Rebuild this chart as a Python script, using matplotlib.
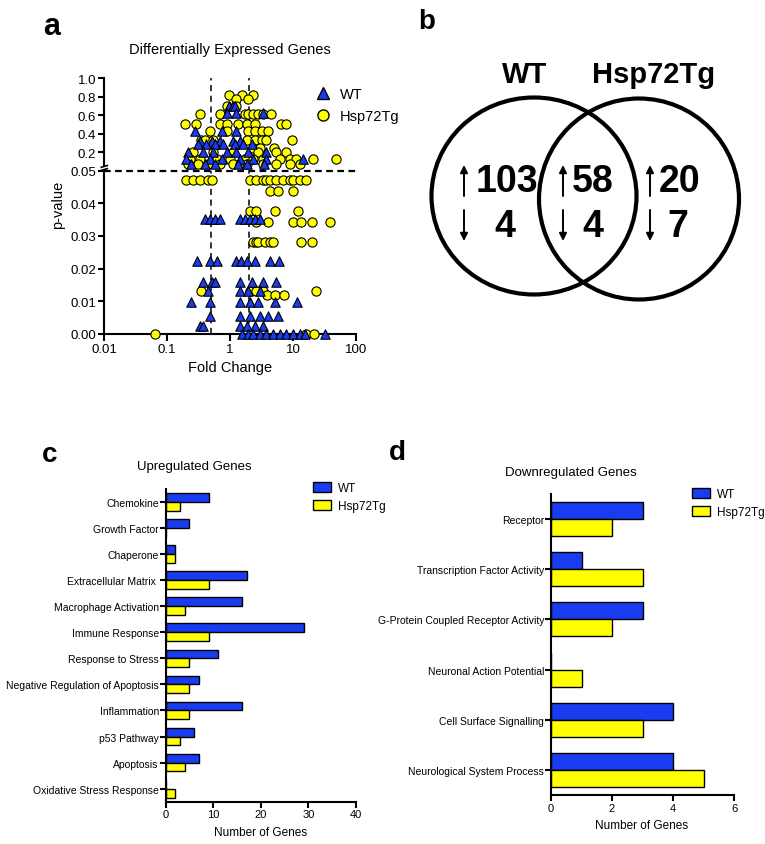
import matplotlib

matplotlib.use("Agg")
import matplotlib.pyplot as plt
import numpy as np
from matplotlib.lines import Line2D
from matplotlib.patches import Ellipse

plt.rcParams["font.family"] = ["Liberation Sans", "DejaVu Sans"]

BLUE = "#1a3cf0"
YELLOW = "#ffff00"
W, H = 765, 845

# --- panel a: fold change vs p-value, one row of points per p-value ---
wt_rows_p = [0.70, 0.62, 0.43, 0.32, 0.29, 0.20, 0.13, 0.075,
             0.0352, 0.0224, 0.0158, 0.0131, 0.0098, 0.0055, 0.0025, 0.0]
wt_rows_fc = [
    [0.96, 1.11, 1.19],
    [0.88, 1.23, 3.3],
    [0.28, 0.73, 1.26],
    [0.33, 0.51, 0.69, 1.12, 1.43],
    [0.31, 0.42, 0.57, 0.77, 1.19, 1.61, 2.19],
    [0.21, 0.37, 0.54, 0.88, 1.26, 1.93, 3.78],
    [0.20, 0.48, 0.73, 1.43, 2.32, 3.78, 14.4],
    [0.24, 0.40, 0.57, 1.34, 1.82, 3.5],
    [0.40, 0.48, 0.57, 0.69, 1.43, 1.71, 2.05, 2.46, 2.96],
    [0.30, 0.48, 0.61, 1.26, 1.51, 1.83, 2.46, 4.27, 5.9],
    [0.37, 0.51, 0.57, 1.43, 2.2, 3.34, 5.45],
    [0.45, 1.43, 1.93, 2.96],
    [0.24, 0.48, 1.43, 2.05, 2.77, 5.1, 11.4],
    [0.48, 1.43, 2.05, 2.96, 4.0, 5.78],
    [0.33, 0.37, 1.43, 1.83, 2.47, 3.34],
    [1.52, 1.93, 2.32, 2.96, 3.78, 4.82, 6.15, 7.85, 10.0, 12.8, 15.3, 31.9],
]
hsp_rows_p = [0.82, 0.77, 0.70, 0.61, 0.51, 0.43, 0.33, 0.25, 0.20, 0.13, 0.075,
              0.0471, 0.0439, 0.0375, 0.0342, 0.0280, 0.0131, 0.0120, 0.0]
hsp_rows_fc = [
    [0.96, 1.52, 2.32],
    [1.24, 1.93],
    [0.88, 1.26],
    [0.33, 0.69, 1.71, 1.93, 2.32, 2.78, 3.34, 4.54],
    [0.19, 0.29, 0.69, 0.88, 1.34, 1.82, 2.47, 6.54, 7.85],
    [0.47, 0.88, 1.93, 2.47, 3.15, 4.01],
    [0.35, 0.40, 0.54, 1.82, 2.47, 3.15, 3.78, 9.44],
    [2.3, 3.0, 4.9],
    [0.26, 0.54, 1.12, 2.78, 5.45, 7.85],
    [0.23, 0.33, 0.61, 0.99, 1.71, 2.32, 3.34, 6.15, 8.87, 11.3, 20.8, 47.6],
    [0.215, 0.31, 0.45, 0.69, 1.12, 1.82, 3.34, 5.45, 8.87, 12.8],
    [0.20, 0.26, 0.33, 0.45, 0.51, 2.05, 2.62, 3.34, 3.78, 4.27, 5.45, 6.94, 8.87, 10.0, 12.8, 16.3],
    [4.27, 5.78, 10.0],
    [2.05, 2.62, 5.12, 11.9],
    [2.62, 4.0, 9.8, 13.6, 20.0, 38.0],
    [2.3, 2.6, 2.75, 3.54, 4.27, 4.83, 13.2, 20.0],
    [0.35, 2.05, 2.62, 3.3, 23.5],
    [3.8, 5.1, 7.3],
    [0.064, 16.3, 21.9],
]
fc_cutoffs = [0.5, 2.0]
p_cutoff = 0.05

# --- panel b: Venn counts (WT only, shared, Hsp72Tg only) ---
venn_groups = ["WT", "Hsp72Tg"]
venn_up = [103, 58, 20]
venn_down = [4, 4, 7]

# --- panel c ---
up_categories = ["Chemokine", "Growth Factor", "Chaperone", "Extracellular Matrix ",
                 "Macrophage Activation", "Immune Response", "Response to Stress",
                 "Negative Regulation of Apoptosis", "Inflammation", "p53 Pathway",
                 "Apoptosis", "Oxidative Stress Response"]
up_wt = [9, 5, 2, 17, 16, 29, 11, 7, 16, 6, 7, 0]
up_hsp = [3, 0, 2, 9, 4, 9, 5, 5, 5, 3, 4, 2]

# --- panel d ---
down_categories = ["Receptor", "Transcription Factor Activity",
                   "G-Protein Coupled Receptor Activity", "Neuronal Action Potential",
                   "Cell Surface Signalling", "Neurological System Process"]
down_wt = [3, 1, 3, 0, 4, 4]
down_hsp = [2, 3, 2, 1, 3, 5]


def px_box(left, top, right, bottom):
    return [left / W, 1 - bottom / H, (right - left) / W, (bottom - top) / H]


def fx(x):
    return x / W


def fy(y):
    return 1 - y / H


def expand(rows_p, rows_fc):
    fc, p = [], []
    for pv, fcs in zip(rows_p, rows_fc):
        fc.extend(fcs)
        p.extend([pv] * len(fcs))
    return np.asarray(fc), np.asarray(p)


def style_axis(ax):
    for side in ("top", "right"):
        ax.spines[side].set_visible(False)
    for side in ("left", "bottom"):
        ax.spines[side].set_linewidth(1.5)
    ax.tick_params(width=1.5, length=4, color="black")


fig = plt.figure(figsize=(W / 100, H / 100), dpi=100)

# ---------------- panel a ----------------
ax_top = fig.add_axes(px_box(104.3, 79, 356, 167.4))
ax_bot = fig.add_axes(px_box(104.3, 171.7, 356, 334.7))
for ax in (ax_top, ax_bot):
    style_axis(ax)
    ax.set_xscale("log")
    ax.set_xlim(0.01, 100)
    ax.tick_params(which="minor", length=0)
    ax.tick_params(labelsize=9.5, pad=2)
    for c in fc_cutoffs:
        ax.axvline(c, color="black", ls=(0, (4, 3)), lw=1.1, zorder=1)
ax_top.spines["bottom"].set_visible(False)
ax_top.set_xticks([])
ax_top.set_ylim(0.05, 1.0)
ax_top.set_yticks([0.2, 0.4, 0.6, 0.8, 1.0], ["0.2", "0.4", "0.6", "0.8", "1.0"])
ax_bot.set_ylim(0, 0.05)
ax_bot.set_yticks([0, 0.01, 0.02, 0.03, 0.04, 0.05],
                  ["0.00", "0.01", "0.02", "0.03", "0.04", "0.05"])
ax_bot.set_xticks([0.01, 0.1, 1, 10, 100], ["0.01", "0.1", "1", "10", "100"])
ax_bot.tick_params(axis="x", length=5)
ax_bot.axhline(p_cutoff, color="black", ls=(0, (3, 2)), lw=1.6, xmax=1.01, clip_on=False, zorder=1)

wt_fc, wt_p = expand(wt_rows_p, wt_rows_fc)
hsp_fc, hsp_p = expand(hsp_rows_p, hsp_rows_fc)
for ax, sel in ((ax_top, lambda p: p >= p_cutoff), (ax_bot, lambda p: p < p_cutoff)):
    m = sel(hsp_p)
    ax.scatter(hsp_fc[m], hsp_p[m], s=44, marker="o", color=YELLOW, edgecolor="black",
               linewidth=0.8, clip_on=False, zorder=3)
    m = sel(wt_p)
    ax.scatter(wt_fc[m], wt_p[m], s=46, marker="^", color=BLUE, edgecolor="black",
               linewidth=0.8, clip_on=False, zorder=4)

# axis break marks
for yb in (-0.035, -0.0):
    ax_top.plot([-0.012, 0.012], [yb - 0.01, yb + 0.01], transform=ax_top.transAxes,
                color="black", lw=1.2, clip_on=False)

handles_a = [
    Line2D([], [], marker="^", ls="", color=BLUE, markeredgecolor="black", markersize=8, label="WT"),
    Line2D([], [], marker="o", ls="", color=YELLOW, markeredgecolor="black", markersize=8, label="Hsp72Tg"),
]
ax_top.legend(handles=handles_a, loc="upper left", bbox_to_anchor=(fx(308), fy(81)),
              bbox_transform=fig.transFigure, frameon=False, fontsize=10.5, borderpad=0,
              handlelength=1.0, handletextpad=0.7, labelspacing=0.55)

fig.text(fx(230), fy(50), "Differentially Expressed Genes", ha="center", va="center", fontsize=10.5)
fig.text(fx(230), fy(368), "Fold Change", ha="center", va="center", fontsize=10.5)
fig.text(fx(58), fy(205), "p-value", ha="center", va="center", rotation=90, fontsize=10.5)

# ---------------- panel b ----------------
ax_b = fig.add_axes(px_box(380, 0, 765, 380))
ax_b.set_xlim(380, 765)
ax_b.set_ylim(380, 0)
ax_b.axis("off")
ax_b.add_patch(Ellipse((534, 197), 205, 197, fill=False, lw=3.0, ec="black"))
ax_b.add_patch(Ellipse((639, 200), 200, 201, fill=False, lw=3.0, ec="black"))
for x, name in zip([525, 654], venn_groups):
    ax_b.text(x, 75, name, ha="center", va="center", fontsize=21, fontweight="bold")

arrow_x = [464, 563, 650]
up_left = [476, 572, 659]
down_center = [505, 593, 678]
for ax_x, ux, dx, nu, nd in zip(arrow_x, up_left, down_center, venn_up, venn_down):
    ax_b.annotate("", xy=(ax_x, 166), xytext=(ax_x, 197),
                  arrowprops=dict(arrowstyle="-|>", lw=1.4, color="black", mutation_scale=11,
                                  shrinkA=0, shrinkB=0))
    ax_b.annotate("", xy=(ax_x, 242), xytext=(ax_x, 211),
                  arrowprops=dict(arrowstyle="-|>", lw=1.4, color="black", mutation_scale=11,
                                  shrinkA=0, shrinkB=0))
    ax_b.text(ux, 182, str(nu), ha="left", va="center", fontsize=27, fontweight="bold")
    ax_b.text(dx, 227, str(nd), ha="center", va="center", fontsize=27, fontweight="bold")


# ---------------- panels c, d ----------------
def bar_panel(ax, cats, wt, hsp, xmax, xstep):
    style_axis(ax)
    y = np.arange(len(cats))
    h = 0.34
    ax.barh(y - h / 2, wt, height=h, color=BLUE, edgecolor="black", linewidth=1.0, label="WT")
    ax.barh(y + h / 2, hsp, height=h, color=YELLOW, edgecolor="black", linewidth=1.0, label="Hsp72Tg")
    ax.set_ylim(len(cats) - 0.5, -0.5)
    ax.set_yticks(y, cats)
    ax.set_xlim(0, xmax)
    ax.set_xticks(np.arange(0, xmax + 1, xstep))
    ax.tick_params(axis="y", labelsize=7.5, length=4, pad=1)
    ax.tick_params(axis="x", labelsize=8, length=4, pad=1.5)


ax_c = fig.add_axes(px_box(165.7, 490, 356, 802.7))
bar_panel(ax_c, up_categories, up_wt, up_hsp, 40, 10)
ax_c.legend(loc="upper left", bbox_to_anchor=(fx(307), fy(477)), bbox_transform=fig.transFigure,
            frameon=False, fontsize=8.5, borderpad=0, handlelength=1.5, handleheight=0.9,
            handletextpad=0.6, labelspacing=0.55)
fig.text(fx(194), fy(467), "Upregulated Genes", ha="center", va="center", fontsize=9.5)
fig.text(fx(261), fy(833), "Number of Genes", ha="center", va="center", fontsize=8.5)

ax_d = fig.add_axes(px_box(551, 495, 734, 796))
bar_panel(ax_d, down_categories, down_wt, down_hsp, 6, 2)
ax_d.legend(loc="upper left", bbox_to_anchor=(fx(686), fy(483)), bbox_transform=fig.transFigure,
            frameon=False, fontsize=8.5, borderpad=0, handlelength=1.5, handleheight=0.9,
            handletextpad=0.6, labelspacing=0.55)
fig.text(fx(571), fy(473), "Downregulated Genes", ha="center", va="center", fontsize=9.5)
fig.text(fx(642), fy(826), "Number of Genes", ha="center", va="center", fontsize=8.5)

# panel letters
for x, y, letter, size in ((52, 27, "a", 22), (427, 22, "b", 20), (50, 455, "c", 20), (397, 453, "d", 20)):
    fig.text(fx(x), fy(y), letter, ha="center", va="center", fontsize=size, fontweight="bold")

fig.savefig("out.png", dpi=100)
plt.close(fig)
